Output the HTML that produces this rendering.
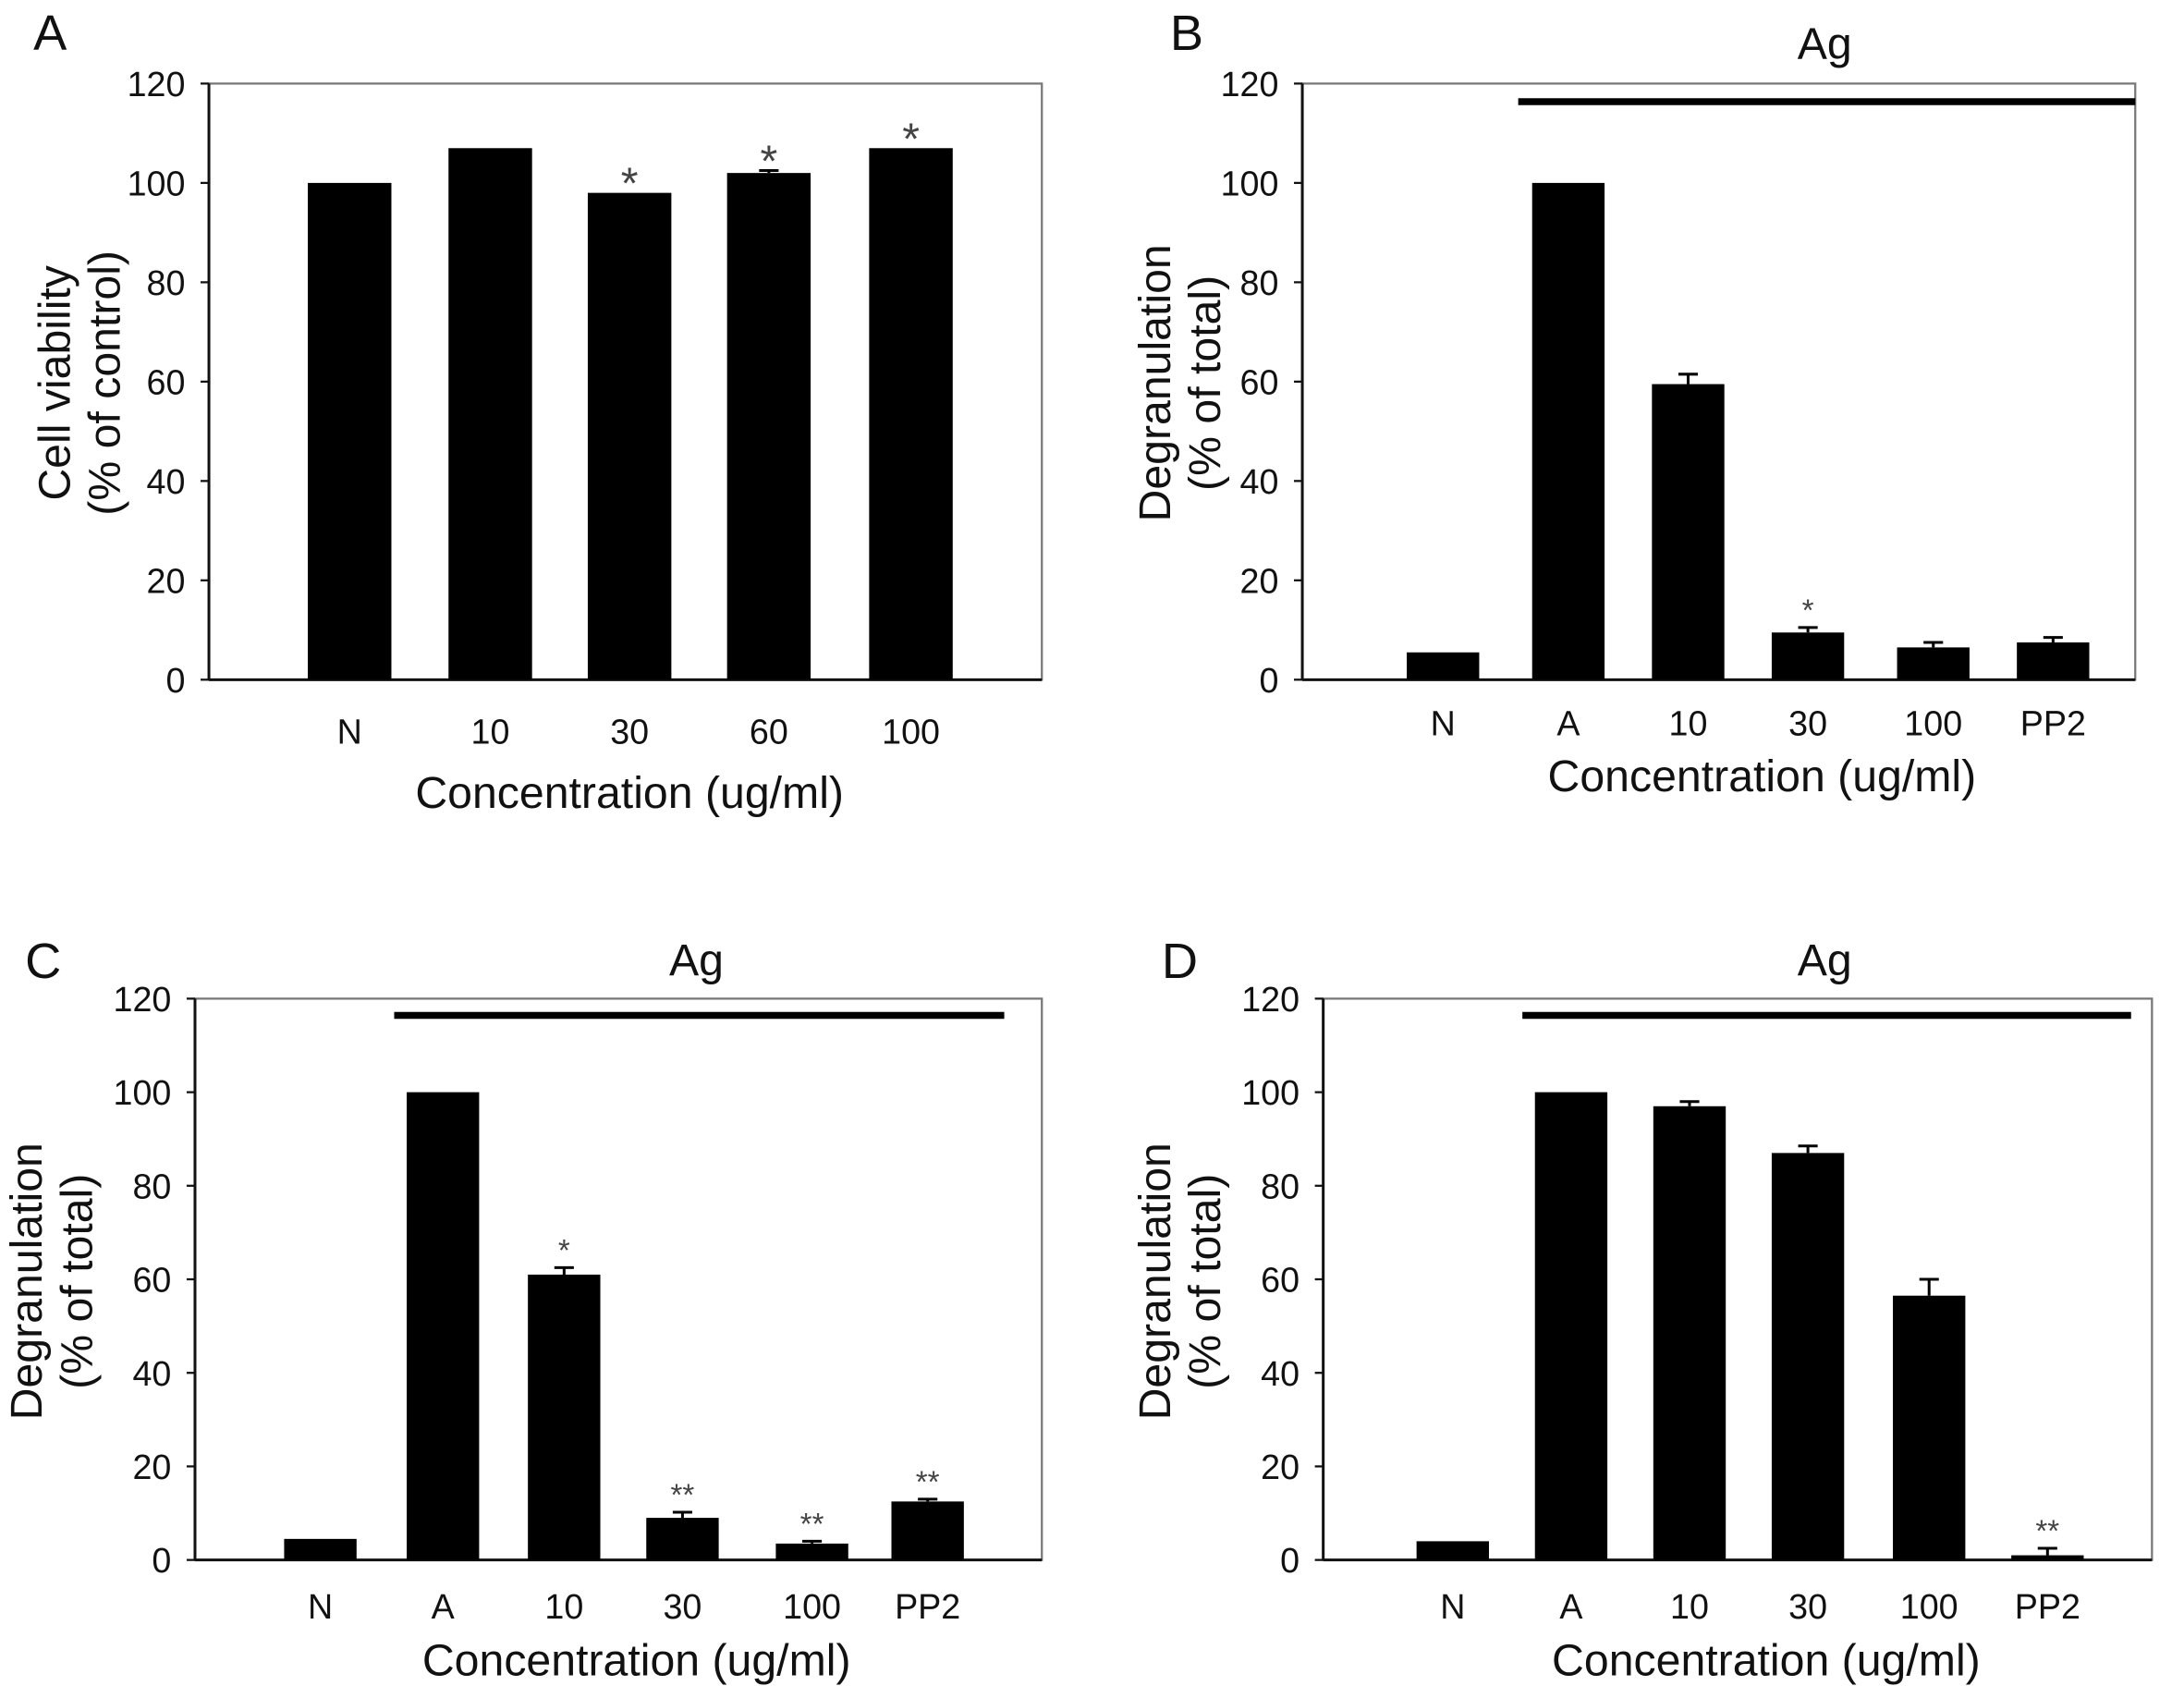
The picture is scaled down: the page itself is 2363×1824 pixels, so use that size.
<!DOCTYPE html>
<html><head><meta charset="utf-8"><style>
html,body{margin:0;padding:0;background:#fff;}
svg{display:block;font-family:"Liberation Sans",Arial,sans-serif;}
</style></head><body>
<svg id="fig" width="2363" height="1824" viewBox="0 0 1568 1210.5" preserveAspectRatio="none" xmlns="http://www.w3.org/2000/svg"></svg>
<script>
const catsA=["N","10","30","60","100"];
const valsA=[100,107,98,102,107];
const errA=[0,0,0,0.5,0];
const starsA=["","","*","*","*"];
const catsB=["N","A","10","30","100","PP2"];
const valsB=[5.5,100,59.5,9.5,6.5,7.5];
const errB=[0,0,2,1,1,1];
const starsB=["","","","*","",""];
const catsC=["N","A","10","30","100","PP2"];
const valsC=[4.5,100,61,9,3.5,12.5];
const errC=[0,0,1.5,1.2,0.5,0.5];
const starsC=["","","*","**","**","**"];
const catsD=["N","A","10","30","100","PP2"];
const valsD=[4,100,97,87,56.5,1];
const errD=[0,0,1,1.5,3.5,1.5];
const starsD=["","","","","","**"];
const yTicks=[0,20,40,60,80,100,120];

const NS="http://www.w3.org/2000/svg";
const svg=document.getElementById('fig');
function mk(tag,attrs,parent){const e=document.createElementNS(NS,tag);for(const k in attrs)e.setAttribute(k,attrs[k]);(parent||svg).appendChild(e);return e;}
function txt(s,x,y,size,anchor,parent,rot){const t=mk('text',{x:x,y:y,'font-size':size,'text-anchor':anchor||'middle',fill:'#111'},parent);if(rot)t.setAttribute('transform','rotate(-90 '+x+' '+y+')');t.textContent=s;return t;}

function panel(cfg,cats,vals,errs,stars){
  const g=mk('g',{});
  
  
  const y=v=>cfg.y0-(v/120)*(cfg.y0-cfg.y1);
  const x=i=>cfg.centers[i];
  const box=mk('rect',{x:cfg.x0,y:cfg.y1,width:cfg.x1-cfg.x0,height:cfg.y0-cfg.y1,fill:'none',stroke:'#777','stroke-width':1.5},g);
  
  
  const ax=mk('line',{x1:cfg.x0,y1:cfg.y1,x2:cfg.x0,y2:cfg.y0,stroke:'#111','stroke-width':2},g);
  
  
  const bx=mk('line',{x1:cfg.x0,y1:cfg.y0,x2:cfg.x1,y2:cfg.y0,stroke:'#111','stroke-width':2},g);
  
  
  yTicks.forEach(t=>{
    mk('line',{x1:cfg.x0-6,y1:y(t),x2:cfg.x0,y2:y(t),stroke:'#111','stroke-width':1.5},g);
    const l=txt(String(t),cfg.x0-17,y(t)+9,25,'end',g);
    
    
  });
  cats.forEach((c,i)=>{
    const w=cfg.bw;
    const b=mk('rect',{x:x(i)-w/2,y:y(vals[i]),width:w,height:y(0)-y(vals[i]),fill:'#000'},g);
    
    
    if(errs[i]>0){
      const top=y(vals[i]+errs[i]);
      const e=mk('path',{d:'M'+x(i)+' '+y(vals[i])+' V'+top+' M'+(x(i)-7)+' '+top+' H'+(x(i)+7),stroke:'#000','stroke-width':2,fill:'none'},g);
      
      
    }
    if(stars[i]){
      const top=y(vals[i]+errs[i]);
      const s=txt(stars[i],x(i),cfg.big?top+4:top-5,cfg.big?32:22,'middle',g);
      s.setAttribute('fill','#444');
      
      
    }
    const l=txt(c,x(i),cfg.labY,25,'middle',g);
    
    
  });
  const xt=txt('Concentration (ug/ml)',cfg.titleX,cfg.titleY,32,'middle',g);
  
  
  const y1t=txt(cfg.yt1,cfg.ytx1,cfg.yty,32,'middle',g,true);
  
  
  const y2t=txt(cfg.yt2,cfg.ytx2,cfg.yty,32,'middle',g,true);
  
  
  const L=txt(cfg.letter,cfg.lx,cfg.ly,36,'start',g);
  
  
  if(cfg.ag){
    const al=mk('line',{x1:cfg.ag[0],y1:cfg.ag[2],x2:cfg.ag[1],y2:cfg.ag[2],stroke:'#000','stroke-width':5},g);
    
    
    const at=txt('Ag',cfg.ag[3],cfg.ag[4],32,'middle',g);
    
    
  }
}
panel({letter:'A',lx:24,ly:36,x0:150,x1:748,y0:488,y1:60,centers:[251,352,452,552,654],bw:60,big:true,labY:534,titleX:452,titleY:580,yt1:'Cell viability',yt2:'(% of control)',ytx1:50,ytx2:86,yty:275},catsA,valsA,errA,starsA);
panel({letter:'B',lx:840,ly:36,x0:935,x1:1533,y0:488,y1:60,centers:[1036,1126,1212,1298,1388,1474],bw:52,labY:528,titleX:1265,titleY:568,yt1:'Degranulation',yt2:'(% of total)',ytx1:840,ytx2:876,yty:275,ag:[1090,1533,73,1310,42]},catsB,valsB,errB,starsB);
panel({letter:'C',lx:18,ly:702,x0:140,x1:748,y0:1120,y1:717,centers:[230,318,405,490,583,666],bw:52,labY:1162,titleX:457,titleY:1203,yt1:'Degranulation',yt2:'(% of total)',ytx1:30,ytx2:66,yty:920,ag:[283,721,729,500,700]},catsC,valsC,errC,starsC);
panel({letter:'D',lx:834,ly:702,x0:950,x1:1545,y0:1120,y1:717,centers:[1043,1128,1213,1298,1385,1470],bw:52,labY:1162,titleX:1268,titleY:1203,yt1:'Degranulation',yt2:'(% of total)',ytx1:840,ytx2:876,yty:920,ag:[1093,1530,729,1310,700]},catsD,valsD,errD,starsD);
</script>
</body></html>
